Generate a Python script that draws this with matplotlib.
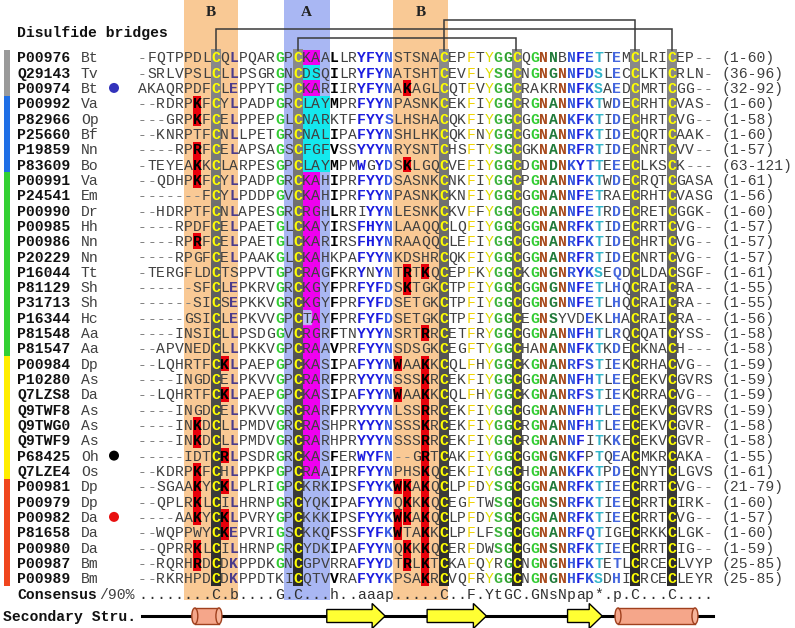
import matplotlib
matplotlib.use('Agg')
import matplotlib.pyplot as plt
from matplotlib.patches import Rectangle, Ellipse, Polygon
from matplotlib.colors import LinearSegmentedColormap
import numpy as np

# ---- data -------------------------------------------------------------
names = ['P00976', 'Q29143', 'P00974', 'P00992', 'P82966', 'P25660', 'P19859',
         'P83609', 'P00991', 'P24541', 'P00990', 'P00985', 'P00986', 'P20229',
         'P16044', 'P81129', 'P31713', 'P16344', 'P81548', 'P81547', 'P00984',
         'P10280', 'Q7LZS8', 'Q9TWF8', 'Q9TWG0', 'Q9TWF9', 'P68425', 'Q7LZE4',
         'P00981', 'P00979', 'P00982', 'P81658', 'P00980', 'P00987', 'P00989']
species = ['Bt', 'Tv', 'Bt', 'Va', 'Op', 'Bf', 'Nn', 'Bo', 'Va', 'Em', 'Dr', 'Hh',
           'Nn', 'Nn', 'Tt', 'Sh', 'Sh', 'Hc', 'Aa', 'Aa', 'Dp', 'As', 'Da', 'As',
           'As', 'As', 'Oh', 'Os', 'Dp', 'Dp', 'Da', 'Da', 'Da', 'Bm', 'Bm']
seqs = [
    "-FQTPPDLCQLPQARGPCKAALLRYFYNSTSNACEPFTYGGCQGNNBNFETTEMCLRICEP--",
    "-SRLVPSLCLLPSGRGNCDSQILRYFYNATSHTCEVFLYSGCNGNGNNFDSLECCLKTCRLN-",
    "AKAQRPDFCLEPPYTGPCKARIIRYFYNAKAGLCQTFVYGGCRAKRNNFKSAEDCMRTCGG--",
    "--RDRPKFCYLPADPGRCLAYMPRFYYNPASNKCEKFIYGGCRGNANNFKTWDECRHTCVAS-",
    "---GRPKFCELPPEPGLCNARKTFFYYSLHSHACQKFIYGGCGGNANKFKTIDECHRTCVG--",
    "--KNRPTFCNLLPETGRCNALIPAFYYNSHLHKCQKFNYGGCGGNANNFKTIDECQRTCAAK-",
    "----RPRFCELAPSAGSCFGFVSSYYYNRYSNTCHSFTYSGCGKNANRFRTIDECNRTCVV--",
    "-TEYEAKKCLARPESGPCLAYMPMWGYDSKLGQCVEFIYGGCDGNDNKYTTEEECLKSCK---",
    "--QDHPKFCYLPADPGRCKAHIPRFYYDSASNKCNKFIYGGCPGNANNFKTWDECRQTCGASA",
    "-------FCYLPDDPGVCKAHIPRFYYNPASNKCKNFIYGGCGGNANNFETRAECRHTCVASG",
    "--HDRPTFCNLAPESGRCRGHLRRIYYNLESNKCKVFFYGGCGGNANNFETRDECRETCGGK-",
    "----RPDFCELPAETGLCKAYIRSFHYNLAAQQCLQFIYGGCGGNANRFKTIDECRRTCVG--",
    "----RPRFCELPAETGLCKARIRSFHYNRAAQQCLEFIYGGCGGNANRFKTIDECHRTCVG--",
    "----RPGFCELPAAKGLCKAHKPAFYYNKDSHRCQKFIYGGCGGNANRFRTIDECNRTCVG--",
    "-TERGFLDCTSPPVTGPCRAGFKRYNYNTRTKQCEPFKYGGCKGNGNRYKSEQDCLDACSGF-",
    "------SFCLEPKRVGRCKGYFPRFYFDSKTGKCTPFIYGGCGGNGNNFETLHQCRAICRA--",
    "------SICSEPKKVGRCKGYFPRFYFDSETGKCTPFIYGGCGGNGNNFETLHQCRAICRA--",
    "-----GSICLEPKVVGPCTAYFPRFYFDSETGKCTPFIYGGCEGNSYVDEKLHACRAICRA--",
    "----INSICLLPSDGGVCRGRFTNYYYNSRTRRCETFRYGGCGGNANNFHTLRQCQATCYSS-",
    "--APVNEDCLLPKKVGPCRAAVPRFYYNSDSGKCEGFTYGGCHANANNFKTKDECKNACH---",
    "--LQHRTFCKLPAEPGPCKASIPAFYYNWAAKKCQLFHYGGCKGNANRFSTIEKCRHACVG--",
    "----INGDCELPKVVGPCRARFPRYYYNSSSKRCEKFIYGGCGGNANNFHTLEECEKVCGVRS",
    "--LQHRTFCKLPAEPGPCKASIPAFYYNWAAKKCQLFHYGGCKGNANRFSTIEKCRRACVG--",
    "----INGDCELPKVVGRCRARFPRYYYNLSSRRCEKFIYGGCGGNANNFHTLEECEKVCGVRS",
    "----INKDCLLPMDVGRCRASHPRYYYNSSSKRCEKFIYGGCRGNANNFHTLEECEKVCGVR-",
    "----INKDCLLPMDVGRCRARHPRYYYNSSSRRCEKFIYGGCRGNANNFITKKECEKVCGVR-",
    "-----IDTCRLPSDRGRCKASFERWYFN--GRTCAKFIYGGCGGNGNKFPTQEACMKRCAKA-",
    "--KDRPKFCHLPPKPGPCRAAIPRFYYNPHSKQCEKFIYGGCHGNANKFKTPDECNYTCLGVS",
    "--SGAAKYCKLPLRIGPCKRKIPSFYYKWKAKQCLPFDYSGCGGNANRFKTIEECRRTCVG--",
    "--QPLRKLCILHRNPGRCYQKIPAFYYNQKKKQCEGFTWSGCGGNSNRFKTIEECRRTCIRK-",
    "----AAKYCKLPVRYGPCKKKIPSFYYKWKAKQCLPFDYSGCGGNANRFKTIEECRRTCVG--",
    "--WQPPWYCKEPVRIGSCKKQFSSFYFKWTAKKCLPFLFSGCGGNANRFQTIGECRKKCLGK-",
    "--QPRRKLCILHRNPGRCYDKIPAFYYNQKKKQCERFDWSGCGGNSNRFKTIEECRRTCIG--",
    "--RQRHRDCDKPPDKGNCGPVRRAFYYDTRLKTCKAFQYRGCNGNGNHFKTETLCRCECLVYP",
    "--RKRHPDCDKPPDTKICQTVVRAFYYKPSAKRCVQFRYGGCNGNGNHFKSDHICRCECLEYR",
]
ranges = ['(1-60)', '(36-96)', '(32-92)', '(1-60)', '(1-58)', '(1-60)', '(1-57)',
          '(63-121)', '(1-61)', '(1-56)', '(1-60)', '(1-57)', '(1-57)', '(1-57)',
          '(1-61)', '(1-55)', '(1-55)', '(1-56)', '(1-58)', '(1-58)', '(1-59)',
          '(1-59)', '(1-59)', '(1-59)', '(1-58)', '(1-58)', '(1-55)', '(1-61)',
          '(21-79)', '(1-60)', '(1-57)', '(1-60)', '(1-59)', '(25-85)', '(25-85)']
consensus = "........C.b....G.C...h..aaap.....C..F.YtGC.GNsNpap*.p.C...C...."

group_sizes = [3, 5, 12, 8, 7]
group_colors = ['#9a9a9a', '#1f6fe6', '#33d033', '#ffee00', '#f0461e']

# (row, col) 1-based: key residues on red
red_cells = [(3, 30), (4, 7), (5, 7), (7, 7), (8, 7), (8, 30), (9, 7), (13, 7),
             (15, 30), (15, 32), (16, 30), (19, 32), (21, 10), (21, 29), (21, 32),
             (22, 32), (23, 10), (23, 29), (23, 32), (24, 32), (25, 7), (25, 32),
             (26, 7), (26, 32), (27, 10), (27, 32), (28, 7), (28, 32), (29, 7),
             (29, 10), (29, 29), (29, 30), (29, 32), (30, 7), (30, 30), (30, 32),
             (31, 7), (31, 10), (31, 29), (31, 30), (31, 32), (32, 10), (32, 29),
             (32, 32), (33, 7), (33, 30), (33, 32), (34, 7), (34, 30), (34, 32),
             (35, 32)]
# (row, first col, last col)
cyan_cells = [(2, 19, 20), (4, 19, 21), (5, 19, 21), (6, 19, 21), (7, 19, 21), (8, 19, 21)]
magenta_cells = [(1, 19, 20), (3, 19, 20)] + [(r, 19, 20) for r in range(9, 18)] + \
                [(18, 20, 20)] + [(r, 19, 20) for r in range(19, 29)]

bands = [(6, 11, 'B'), (17, 21, 'A'), (29, 34, 'B')]
band_colors = {'A': '#a9b7f3', 'B': '#f9c995'}
cys_cols = [9, 18, 34, 42, 55, 59]
bridges = [(18, 42, 0), (9, 59, 1), (34, 55, 2)]

# secondary structure (column coordinates)
sec_struct = [('H', 5.9, 9.2), ('E', 20.7, 27.1), ('E', 31.7, 38.2),
              ('E', 47.1, 50.9), ('H', 52.3, 61.4)]

dots = {2: '#3333bb', 26: '#000000', 30: '#e81010'}

# colouring of residues in columns that follow the consensus
col_rules = {
    11: ('EFHIKLMQRWY', '#4b3c8c', True),
    16: ('G', '#33cc33', True),
    22: ('FILMVWY', '#000000', True),
    25: ('FHWY', '#1c1ce0', True),
    26: ('FHWY', '#1c1ce0', True),
    27: ('FHWY', '#1c1ce0', True),
    28: ('CDEHKNQRST', '#3d5ee6', True),
    37: ('F', '#f0d400', False),
    39: ('Y', '#dede00', False),
    40: ('GS', '#3cb43c', True),
    41: ('G', '#2e9e2e', True),
    44: ('G', '#33cc33', True),
    45: ('N', '#a84a1c', True),
    46: ('ACDGNPSTV', '#217a3a', True),
    47: ('N', '#a84a1c', True),
    48: ('CDEHKNQRST', '#3355dd', True),
    49: ('FHWY', '#1c1ce0', True),
    50: ('CDEHKNQRST', '#3355dd', True),
    51: ('ST', '#30b4c8', True),
    53: ('CDEHKNQRST', '#4466dd', True),
}

# ---- layout -----------------------------------------------------------
CW, RH = 9.12, 15.32      # pixels per column / row
X0, Y0 = 138.0, 57.3      # pixel of first column edge / first row centre
W, H = 795, 628
MONO = 'Liberation Mono'
FS = 10.6

fig = plt.figure(figsize=(W / 100, H / 100), dpi=100)
ax = fig.add_axes([0, 0, 1, 1])
ax.axis('off')

def px(x):
    return (x - X0) / CW

def py(y):
    return (y - Y0) / RH

n = len(seqs)
top, bottom = py(0), py(600)

for c0, c1, lab in bands:
    ax.add_patch(Rectangle((c0 - 1, top), c1 - c0 + 1, bottom - top,
                           fc=band_colors[lab], ec='none', zorder=0))
    ax.text((c0 - 1 + c1) / 2, py(13), lab, ha='center', va='center',
            family='Liberation Serif', weight='bold', fontsize=11, color='#222222')

for r, c0, c1 in cyan_cells:
    ax.add_patch(Rectangle((c0 - 1, r - 1.5), c1 - c0 + 1, 1, fc='#14e8ee', ec='none', zorder=1))
for r, c0, c1 in magenta_cells:
    ax.add_patch(Rectangle((c0 - 1, r - 1.5), c1 - c0 + 1, 1, fc='#f000f0', ec='none', zorder=1))
ax.add_patch(Rectangle((18.08, 16.58), 0.84, 0.84, fc='#b4c4f6', ec='#c8a8f0', lw=1, zorder=1))
for r, c in red_cells:
    ax.add_patch(Rectangle((c - 1 + 0.04, r - 1.5), 0.92, 1, fc='#e8000a', ec='none', zorder=1))

# cysteine columns with a vertical grey gradient
grey = LinearSegmentedColormap.from_list('g', ['#8c8c8c', '#2a2a2a'])
grad = np.linspace(0, 1, 256).reshape(-1, 1)
for c in cys_cols:
    ax.imshow(grad, cmap=grey, aspect='auto', extent=(c - 1, c, n - 0.5, -0.5),
              zorder=1, interpolation='bilinear')

# group bars
start = 0
for size, col in zip(group_sizes, group_colors):
    ax.add_patch(Rectangle((px(4), start - 0.5), px(10) - px(4), size, fc=col, ec='none', zorder=1))
    start += size

# residues
for r, s in enumerate(seqs):
    red_here = {c for rr, c in red_cells if rr == r + 1}
    for k, ch in enumerate(s):
        c = k + 1
        color, bold = '#404040', False
        if ch == '-':
            color = '#808080'
        elif c in cys_cols and ch == 'C':
            color, bold = '#ffff00', True
        elif c in red_here:
            color, bold = '#000000', True
        elif c in col_rules and ch in col_rules[c][0]:
            color, bold = col_rules[c][1], col_rules[c][2]
        ax.text(k + 0.5, r + 0.33, ch, ha='center', va='baseline', family=MONO,
                fontsize=FS, color=color, weight='bold' if bold else 'normal', zorder=3)
    ax.text(px(17), r + 0.33, names[r], ha='left', va='baseline', family=MONO,
            fontsize=FS, weight='bold', color='#111111', zorder=3)
    ax.text(px(17) + 7, r + 0.33, species[r], ha='left', va='baseline', family=MONO,
            fontsize=FS, color='#404040', zorder=3)
    ax.text(64, r + 0.33, ranges[r], ha='left', va='baseline', family=MONO,
            fontsize=FS, color='#404040', zorder=3)

for r, col in dots.items():
    ax.add_patch(Ellipse((px(114), r), 10 / CW, 10 / RH, fc=col, ec='none', zorder=3))

# consensus
ax.text(px(17), n + 0.33, 'Consensus', ha='left', va='baseline', family=MONO,
        fontsize=FS, weight='bold', color='#111111')
ax.text(px(17) + 9, n + 0.33, '/90%', ha='left', va='baseline', family=MONO,
        fontsize=FS, color='#404040')
for k, ch in enumerate(consensus):
    ax.text(k + 0.5, n + 0.33, ch, ha='center', va='baseline', family=MONO,
            fontsize=FS, color='#303030', zorder=3)

ax.text(px(17), py(32) + 0.33, 'Disulfide bridges', ha='left', va='baseline',
        family=MONO, fontsize=FS, weight='bold', color='#111111')

# disulfide bridges
for c0, c1, lev in bridges:
    yl = py(38 - 9 * lev)
    xs = [c0 - 0.5, c0 - 0.5, c1 - 0.5, c1 - 0.5]
    ys = [-0.5, yl, yl, -0.5]
    ax.plot(xs, ys, color='#3a3a3a', lw=1.1, zorder=2, solid_joinstyle='miter')

# secondary structure
ys = py(616)
ax.text(px(3), ys + 0.33, 'Secondary Stru.', ha='left', va='baseline', family=MONO,
        fontsize=FS, weight='bold', color='#111111')
ax.plot([px(142), px(713)], [ys, ys], color='black', lw=2.2, zorder=2)
hh = 8 / RH
for kind, a, b in sec_struct:
    if kind == 'H':
        ew = 6 / CW
        ax.add_patch(Rectangle((a + ew / 2, ys - hh), b - a - ew, 2 * hh,
                               fc='#f5a68a', ec='none', zorder=3))
        ax.plot([a + ew / 2, b - ew / 2], [ys - hh, ys - hh], color='#a0401e', lw=1, zorder=4)
        ax.plot([a + ew / 2, b - ew / 2], [ys + hh, ys + hh], color='#a0401e', lw=1, zorder=4)
        ax.add_patch(Ellipse((a + ew / 2, ys), ew, 2 * hh, fc='#f5a68a', ec='#a0401e', lw=1, zorder=3))
        ax.add_patch(Ellipse((b - ew / 2, ys), ew, 2 * hh, fc='#f7b49a', ec='#a0401e', lw=1, zorder=4))
    else:
        sh, hd, hl = 6.5 / RH, 12.5 / RH, 13 / CW
        pts = [(a, ys - sh), (b - hl, ys - sh), (b - hl, ys - hd), (b, ys),
               (b - hl, ys + hd), (b - hl, ys + sh), (a, ys + sh)]
        ax.add_patch(Polygon(pts, closed=True, fc='#ffff33', ec='black', lw=1, zorder=3))

ax.set_xlim(px(0), px(W))
ax.set_ylim(py(H), py(0))
plt.savefig('out.png', dpi=100)
